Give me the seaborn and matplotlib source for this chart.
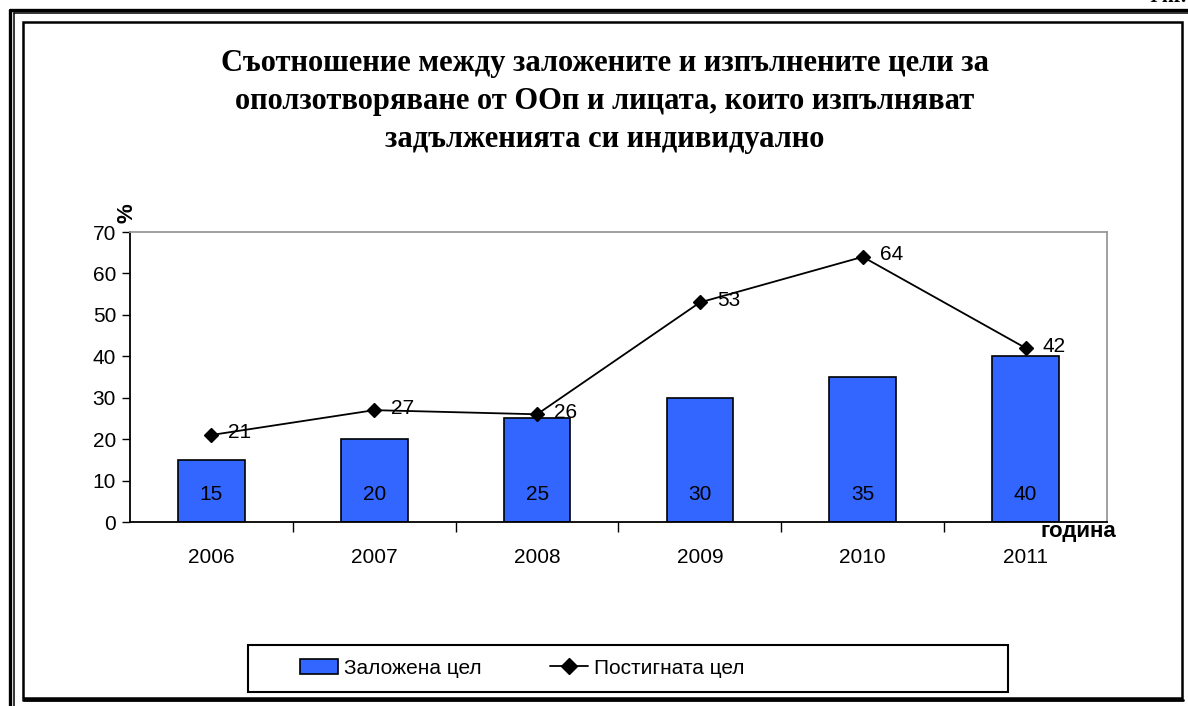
import matplotlib
matplotlib.use("Agg")
import matplotlib.pyplot as plt
import seaborn as sns
from matplotlib.patches import Rectangle, Patch
from matplotlib.lines import Line2D

# data
years = ["2006", "2007", "2008", "2009", "2010", "2011"]
target = [15, 20, 25, 30, 35, 40]      # Заложена цел
achieved = [21, 27, 26, 53, 64, 42]    # Постигната цел
title_lines = [
    "Съотношение между заложените и изпълнените цели за",
    "оползотворяване от ООп и лицата, които изпълняват",
    "задълженията си индивидуално",
]

sns.set_theme(style="white")
plt.rcParams["font.family"] = ["Liberation Sans", "DejaVu Sans"]
plt.rcParams["text.color"] = "black"
plt.rcParams["xtick.color"] = "black"
plt.rcParams["ytick.color"] = "black"
plt.rcParams["axes.labelcolor"] = "black"

W, H = 1188, 706
fig = plt.figure(figsize=(W / 100, H / 100), dpi=100)
fig.patch.set_facecolor("white")


def fx(px):
    return px / W


def fy(py):
    return 1 - py / H


# page frame: double lines top/left, inner box
fig.add_artist(Line2D([fx(10), 1], [fy(9.5), fy(9.5)], color="black", lw=2.4))
fig.add_artist(Line2D([fx(14), 1], [fy(13), fy(13)], color="black", lw=1.1))
fig.add_artist(Line2D([fx(10), fx(10)], [fy(9.5), 0], color="black", lw=2.4))
fig.add_artist(Line2D([fx(14), fx(14)], [fy(13), 0], color="black", lw=1.1))
fig.add_artist(Rectangle((fx(23), fy(698)), fx(1182) - fx(23), fy(22) - fy(698),
                         fill=False, edgecolor="black", lw=1.8))
fig.add_artist(Line2D([fx(23), fx(1183)], [fy(700), fy(700)], color="black", lw=2.0))
# figure caption, cut off by the top edge in the reference
fig.text(1 - fx(2), fy(2), "Фиг.", ha="right", va="baseline",
         fontsize=15, fontweight="bold", family="Liberation Serif")

# title
for i, line in enumerate(title_lines):
    fig.text(fx(605), fy(63 + 38 * i), line, ha="center", va="center",
             fontsize=22, fontweight="bold", family="Liberation Serif")

ax = fig.add_axes([fx(130), fy(522), fx(1107) - fx(130), fy(232) - fy(522)])
ax.set_facecolor("white")

sns.barplot(x=years, y=target, color="#3366FF", saturation=1, width=0.41,
            edgecolor="black", linewidth=1.2, ax=ax, zorder=2)
sns.pointplot(x=years, y=achieved, color="black", markers="D", markersize=7,
              linewidth=1.3, ax=ax, zorder=3)

for i, v in enumerate(target):
    ax.text(i, 6.6, str(v), ha="center", va="center", fontsize=15, zorder=4)
for i, v in enumerate(achieved):
    ax.annotate(str(v), (i, v), xytext=(17, 2), textcoords="offset pixels",
                ha="left", va="center", fontsize=15, zorder=4)

ax.set_xlim(-0.5, 5.5)
ax.set_ylim(0, 70)
ax.set_yticks(range(0, 71, 10))
ax.set_xlabel("")
ax.set_ylabel("")
ax.tick_params(axis="y", which="major", left=True, length=6, width=1,
               direction="out", labelsize=15, pad=4, color="black")
ax.tick_params(axis="x", which="major", length=0, labelsize=15, pad=19)
ax.set_xticks([k + 0.5 for k in range(5)], minor=True)
ax.tick_params(axis="x", which="minor", bottom=True, length=7, width=1,
               direction="out", color="black")

for side in ["left", "bottom"]:
    ax.spines[side].set_color("black")
    ax.spines[side].set_linewidth(1.3)
for side in ["top", "right"]:
    ax.spines[side].set_color("#999999")
    ax.spines[side].set_linewidth(1.3)

fig.text(fx(127), fy(213), "%", rotation=90, ha="center", va="center",
         fontsize=16, fontweight="bold")
fig.text(fx(1078), fy(531), "година", ha="center", va="center",
         fontsize=16, fontweight="bold")

# legend with its own frame
fig.add_artist(Rectangle((fx(248), fy(692)), fx(1008) - fx(248), fy(645) - fy(692),
                         fill=False, edgecolor="black", lw=1.5))
handles = [
    Patch(facecolor="#3366FF", edgecolor="black", linewidth=1.2),
    Line2D([], [], color="black", marker="D", markersize=8, lw=1.3),
]
fig.legend(handles, ["Заложена цел", "Постигната цел"], loc="center left",
           bbox_to_anchor=(fx(300), fy(668)), ncol=2, frameon=False,
           fontsize=15, handlelength=1.8, handletextpad=0.3,
           columnspacing=3.3, borderpad=0, borderaxespad=0)

fig.savefig("out.png", dpi=100, facecolor="white")
